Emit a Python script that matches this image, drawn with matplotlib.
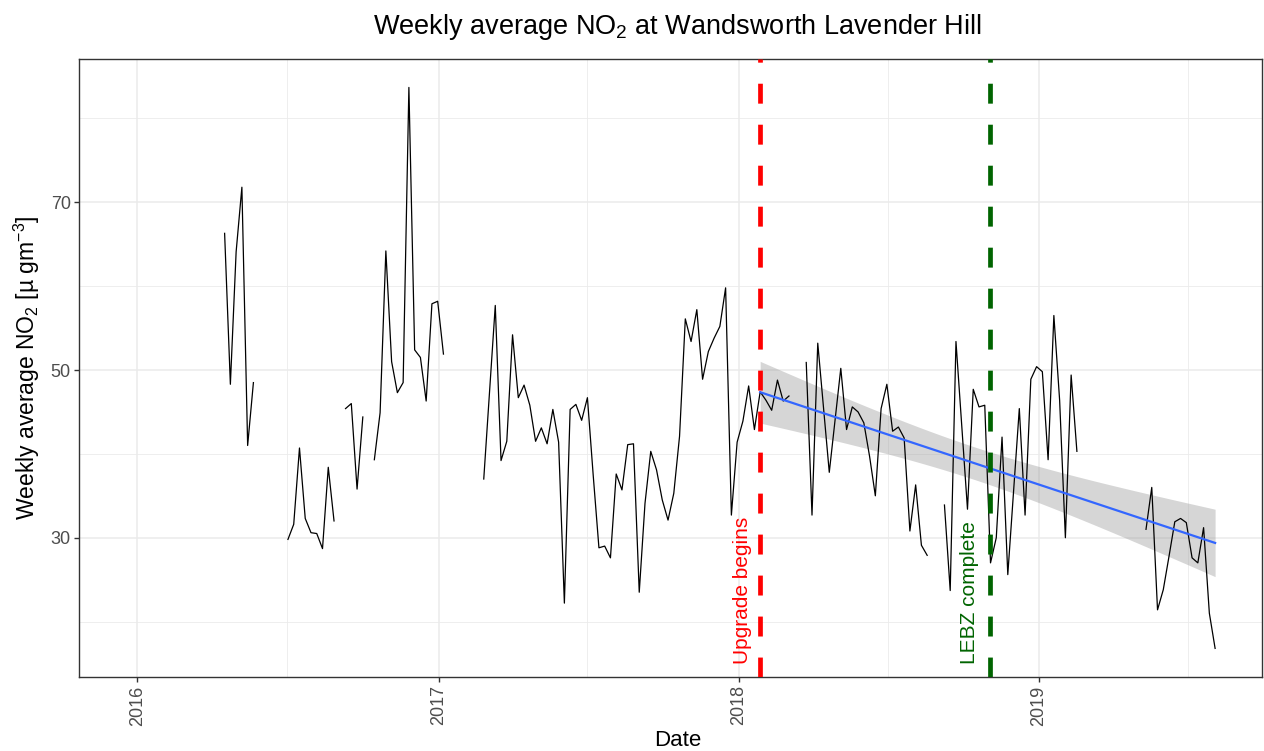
import numpy as np
import matplotlib
matplotlib.use("Agg")
import matplotlib.pyplot as plt
import matplotlib.dates as mdates

plt.rcParams['font.family'] = ['Liberation Sans', 'DejaVu Sans']
plt.rcParams['mathtext.fontset'] = 'custom'
plt.rcParams['mathtext.rm'] = 'Liberation Sans'
plt.rcParams['mathtext.it'] = 'Liberation Sans:italic'
plt.rcParams['mathtext.default'] = 'regular'

# weekly averages, NaN = week missing
first_week = '2016-04-16'
no2 = [
    66.3, 48.3, 64.1, 71.8, 41.0, 48.5,                              # 0-5
    np.nan, np.nan, np.nan, np.nan, np.nan,
    29.8, 31.6, 40.7, 32.3, 30.6, 30.5, 28.7, 38.4, 32.0,            # 11-19
    np.nan,
    45.4, 46.0, 35.8, 44.4,                                          # 21-24
    np.nan,
    39.3, 44.9, 64.2, 51.0, 47.3, 48.5, 83.7, 52.4, 51.5, 46.3,
    57.9, 58.2, 51.9,                                                # 26-38
    np.nan, np.nan, np.nan, np.nan, np.nan, np.nan,
    37.0, 47.3, 57.7, 39.2, 41.5, 54.2, 46.7, 48.2, 45.8, 41.5,
    43.1, 41.2, 45.3, 41.4, 22.2, 45.3, 45.9, 44.0, 46.7, 37.5,
    28.8, 29.0, 27.6, 37.6, 35.7, 41.1, 41.2, 23.5, 34.1, 40.3,
    38.1, 34.5, 32.1, 35.3, 42.1, 56.1, 53.4, 57.2, 48.9, 52.2,
    53.8, 55.2, 59.8, 32.7, 41.4, 43.9, 48.1, 42.9, 47.4, 46.4,
    45.2, 48.8, 46.3, 46.9,                                          # 45-98
    np.nan, np.nan,
    50.9, 32.7, 53.2, 45.5, 37.8, 44.0, 50.2, 42.9, 45.6, 45.0,
    43.7, 39.7, 35.0, 45.4, 48.3, 42.7, 43.2, 41.9, 30.8, 36.3,
    29.1, 27.9,                                                      # 101-122
    np.nan, np.nan,
    33.9, 23.7, 53.4, 43.4, 33.4, 47.7, 45.6, 45.8, 27.0, 30.0,
    42.0, 25.6, 35.5, 45.4, 32.7, 48.9, 50.4, 49.8, 39.3, 56.5,
    46.4, 30.0, 49.4, 40.3,                                          # 125-148
    np.nan, np.nan, np.nan, np.nan, np.nan, np.nan, np.nan, np.nan,
    np.nan, np.nan, np.nan,
    31.0, 36.0, 21.4, 23.8, 27.8, 31.9, 32.3, 31.8, 27.6, 27.0,
    31.2, 21.0, 16.8,                                                # 160-172
]
upgrade_date = '2018-01-27'
lebz_date = '2018-11-02'

no2 = np.array(no2, dtype=float)
dates = np.datetime64(first_week) + np.arange(len(no2)) * np.timedelta64(7, 'D')
xnum = mdates.date2num(dates.astype('datetime64[s]').astype(object))
up_num = mdates.date2num(np.datetime64(upgrade_date).astype(object))
lebz_num = mdates.date2num(np.datetime64(lebz_date).astype(object))

W, H = 1264, 751
fig = plt.figure(figsize=(W / 100, H / 100), dpi=100)
left, right, top, bottom = 79, 1262, 58.5, 677
ax = fig.add_axes([left / W, 1 - bottom / H, (right - left) / W, (bottom - top) / H])

ax.plot(xnum, no2, color='black', lw=0.9, zorder=3)

# linear fit after the upgrade, with 95% band (like geom_smooth(method='lm'))
m = (xnum >= up_num) & np.isfinite(no2)
xs, ys = xnum[m], no2[m]
n = len(xs)
b, a = np.polyfit(xs, ys, 1)
resid = ys - (a + b * xs)
s = np.sqrt(np.sum(resid ** 2) / (n - 2))
xbar = xs.mean()
sxx = np.sum((xs - xbar) ** 2)
xg = np.linspace(xs.min(), xs.max(), 80)
yg = a + b * xg
se = s * np.sqrt(1 / n + (xg - xbar) ** 2 / sxx)
tq = 2.0
ax.fill_between(xg, yg - tq * se, yg + tq * se, color='#999999', alpha=0.4, lw=0, zorder=2)
ax.plot(xg, yg, color='#3366FF', lw=1.6, zorder=4)

ax.axvline(up_num, color='red', lw=3.4, dashes=(4.22, 4.46), zorder=5)
ax.axvline(lebz_num, color='#006400', lw=3.4, dashes=(4.22, 4.46), zorder=5)

ann_y = 14.9
ax.text(mdates.date2num(np.datetime64('2018-01-05').astype(object)), ann_y, 'Upgrade begins',
        rotation=90, ha='center', va='bottom', color='red', fontsize=15, zorder=6)
ax.text(mdates.date2num(np.datetime64('2018-10-09').astype(object)), ann_y, 'LEBZ complete',
        rotation=90, ha='center', va='bottom', color='#006400', fontsize=15, zorder=6)

ax.set_xlim(mdates.date2num(np.datetime64('2015-10-22').astype(object)),
            mdates.date2num(np.datetime64('2019-09-29').astype(object)))
ax.set_ylim(13.39, 87.15)

ax.xaxis.set_major_locator(mdates.YearLocator())
ax.xaxis.set_major_formatter(mdates.DateFormatter('%Y'))
ax.xaxis.set_minor_locator(mdates.MonthLocator(bymonth=7))
ax.set_yticks([30, 50, 70])
ax.set_yticks([20, 40, 60, 80], minor=True)

ax.grid(which='major', color='#EBEBEB', lw=1.1, zorder=0)
ax.grid(which='minor', color='#EBEBEB', lw=0.6, zorder=0)
ax.set_axisbelow(True)

for sp in ax.spines.values():
    sp.set_color('#333333')
    sp.set_linewidth(1.0)
ax.tick_params(which='major', length=3.5, width=1.0, color='#333333', labelcolor='#4D4D4D',
               labelsize=13, pad=2.5)
ax.tick_params(which='minor', length=0)
plt.setp(ax.get_xticklabels(), rotation=90, ha='center', va='top')

ax.set_ylabel('Weekly average NO$_2$ [µ gm$^{-3}$]', fontsize=16.5, color='black', labelpad=6)
fig.text(678 / W, 1 - 741 / H, 'Date', fontsize=16, ha='center', va='center')
fig.text(677 / W, 1 - 27 / H, 'Weekly average NO$_2$ at Wandsworth Lavender Hill',
         fontsize=19.5, ha='center', va='center')

fig.savefig('out.png', dpi=100, facecolor='white')
